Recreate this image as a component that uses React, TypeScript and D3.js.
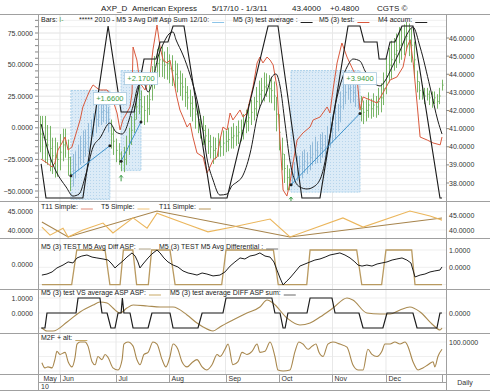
import React, { useEffect, useRef } from 'react';
import * as d3 from 'd3';

type Pt = [number, number];

const W = 490;
const H = 391;

// header
const titleParts = ['AXP_D', 'American Express', '5/17/10 - 1/3/11', '43.4000', '+0.4800', 'CGTS ©'];
const titleX = [101, 132, 212, 292, 330, 377];

// trading days: 0 = 5/17/10 ... 160 = 1/3/11
const lastDay = 160;
const monthLabels = ['May', 'Jun', 'Jul', 'Aug', 'Sep', 'Oct', 'Nov', 'Dec'];
const monthDays = [2.4, 10, 32, 53, 75, 96, 117, 138];
const yearLabel = '10';

// daily bars (price, right axis)
const barClose = [
  40.9, 40.8, 40.7, 40.5, 40.4, 40.1, 39.9, 39.5, 39.4, 39.3,
  39.7, 40.1, 40.2, 39.4, 38.5, 38.7, 39.0, 39.4, 39.8, 40.0,
  40.2, 40.5, 40.8, 41.2, 41.5, 41.7, 41.9, 42.0, 41.9, 41.5,
  40.7, 40.3, 39.8, 39.6, 39.2, 39.3, 39.8, 40.3, 40.9, 41.5,
  42.2, 42.6, 42.2, 42.0, 42.1, 42.6, 43.5, 44.1, 44.6, 44.8,
  44.7, 44.5, 44.6, 44.3, 44.2, 44.0, 43.8, 43.5, 43.3, 43.0,
  42.7, 42.4, 42.1, 41.8, 41.5, 41.1, 40.9, 40.6, 40.3, 40.0,
  39.8, 39.9, 40.1, 40.0, 40.2, 40.3, 40.4, 40.5, 40.6, 40.6,
  40.8, 40.9, 41.1, 41.4, 41.6, 41.9, 42.1, 42.5, 42.9, 43.1,
  43.3, 43.4, 43.2, 43.1, 42.8, 41.8, 40.8, 39.6, 38.8, 38.3,
  38.2, 38.5, 38.6, 38.8, 38.9, 39.0, 39.2, 39.1, 39.4, 39.6,
  39.8, 39.7, 39.9, 40.1, 40.0, 40.4, 40.8, 41.0, 41.3, 41.6,
  42.2, 42.8, 43.0, 43.2, 43.1, 43.0, 42.8, 42.6, 42.1, 41.9,
  42.0, 42.3, 42.1, 42.3, 42.2, 42.5, 42.7, 43.2, 43.9, 44.5,
  44.8, 45.1, 45.3, 45.6, 45.7, 45.9, 46.1, 45.9, 45.6, 44.8,
  43.6, 43.1, 43.0, 42.8, 42.9, 42.7, 42.6, 42.7, 42.5, 42.8, 43.4,
];
const barRange = [
  1.8, 2.0, 2.0, 2.4, 2.6, 2.2, 2.5, 2.0, 2.2, 1.9, 2.0, 1.8, 1.6, 2.0, 1.9,
  1.8, 1.5, 1.4, 1.6, 1.8, 1.5, 1.6, 1.4, 1.3, 1.5, 1.2, 1.4, 1.3, 1.3, 1.4,
  1.6, 1.5, 1.3, 1.2, 1.1, 1.4, 1.6, 1.5, 1.6, 1.5, 1.4, 1.6,
  1.8, 1.6, 1.5, 1.7, 1.9, 1.8, 1.6, 1.9, 1.7, 1.5, 1.8, 1.6, 1.7, 1.5, 1.6, 1.4, 1.5,
  1.6, 1.3, 1.5, 1.4, 1.6, 1.5, 1.3, 1.6, 1.2, 1.4, 1.3, 1.5, 1.2, 1.3, 1.1, 1.4, 1.2,
  1.3, 1.2, 1.4, 1.1, 1.3, 1.2, 1.4, 1.3, 1.5, 1.4, 1.3, 1.6, 1.5, 1.4, 1.6, 1.3, 1.5,
  1.4, 1.6, 1.9, 2.0, 1.8, 1.6, 1.4,
  1.2, 1.3, 1.1, 1.4, 1.2, 1.5, 1.3, 1.2, 1.4, 1.3, 1.5, 1.2, 1.6, 1.4, 1.3, 1.5, 1.7,
  1.6, 1.8, 1.5, 1.7, 1.5, 1.3, 1.2, 1.4, 1.1, 1.2, 1.0,
  1.4, 1.3, 1.2, 1.4, 1.1, 1.3, 1.2, 1.5, 1.6, 1.8, 2.0, 1.9, 2.1, 1.8, 1.9, 2.0, 1.8,
  1.7, 1.6, 1.8, 1.9, 2.0, 1.2, 1.0, 0.8, 0.9, 0.7, 0.8, 0.9, 0.7, 0.8, 0.9, 0.6,
];

// trades
const tradeStart = [14.3, 34.0, 100.7];
const tradeEnd = [29.6, 41.8, 127.8];
const tradeEntry = [38.4, 39.2, 37.9];
const tradeGain = [1.66, 2.17, 3.94];
const tradeHigh = [43.1, 44.2, 44.2];
const tradeLow = [37.1, 38.7, 37.5];
const blueBarTrades = [0, 2];

// oscillators (left axis)
const testSeries: Pt[] = [
  [2.6, -24.8], [4.9, -27.8], [6.9, -31.0], [8.0, -27.8], [9.2, -17.6], [10.8, -12.0], [12.0, -7.3],
  [13.2, -17.6], [14.7, -15.2], [15.9, -7.3], [17.9, 6.2], [19.0, 16.5], [20.6, 24.4], [21.8, 29.9],
  [23.0, 33.9], [24.5, 31.5], [25.7, 29.9], [28.5, 29.9], [30.4, 24.4], [32.4, 11.7], [33.6, -1.7],
  [34.7, 6.2], [37.5, 16.5], [38.3, 27.5], [38.7, 63.9], [40.2, 53.6], [41.4, 35.4], [43.4, 29.9],
  [45.3, 40.2], [46.5, 61.6], [48.1, 81.3], [49.3, 63.9], [50.5, 53.6], [52.0, 51.3], [53.2, 53.6],
  [54.4, 40.2], [55.9, 24.4], [57.1, 14.1], [58.3, 8.5], [59.9, 0.6], [61.1, 3.8], [62.2, -7.3],
  [63.8, -19.9], [66.2, -23.1], [67.7, -35.8], [68.9, -31.0], [70.1, -25.5], [71.7, -23.1],
  [72.8, -9.7], [74.0, 0.6], [75.6, -1.7], [76.8, 11.7], [77.9, 6.2], [80.7, 14.1], [81.9, 8.5],
  [83.4, 11.7], [85.8, 32.3], [87.4, 51.3], [88.5, 56.0], [89.7, 51.3], [91.3, 56.0], [92.5, 53.6],
  [93.7, 49.7], [95.2, 32.3], [96.4, -9.7], [97.6, -49.2], [99.1, -54.0], [100.3, -43.7],
  [101.5, -27.9], [103.1, -9.7], [105.4, -4.1], [108.2, 0.6], [109.4, 6.2], [112.1, 8.5],
  [114.9, 16.5], [116.0, 11.7], [117.2, 29.9], [118.8, 51.3], [120.7, 67.1], [122.7, 56.0],
  [125.1, 45.7], [126.6, 40.2], [127.8, 14.1], [129.0, 24.4], [131.8, 22.0], [134.5, 19.6],
  [136.8, 27.5], [139.6, 37.8], [142.3, 40.2], [144.7, 48.1], [146.3, 63.9], [147.5, 69.5],
  [148.7, 51.3], [150.2, 19.6], [151.4, -7.3], [154.2, -9.7], [156.5, -12.0], [159.3, -13.5],
  [160.0, -7.3],
];
const testAverage: Pt[] = [
  [2.6, -28.6], [4.5, -55.5], [19.0, -55.5], [28.9, 80.5], [34.0, 12.5], [39.1, 12.5], [43.0, 54.4],
  [47.7, 54.4], [49.3, 67.9], [52.4, 67.9], [54.4, 80.5], [58.7, 80.5], [69.3, -55.5], [75.6, -55.5],
  [91.7, 80.5], [95.6, 80.5], [105.0, -55.5], [112.1, -55.5], [123.1, 80.5], [127.8, 80.5],
  [129.4, 67.9], [134.5, 67.9], [135.3, 54.4], [138.0, 54.4], [139.6, 67.9], [141.5, 67.9],
  [144.3, 80.5], [148.6, 80.5], [159.2, -55.5], [160.0, -55.5],
];
const accum: Pt[] = [
  [2.6, 3.0], [5.7, -20.7], [8.4, -34.2], [12.4, -46.8], [15.1, -54.0], [17.5, -52.4], [20.2, -36.6],
  [23.0, -15.2], [25.7, -8.1], [29.6, 3.8], [32.0, -3.3], [34.4, -4.9], [38.7, 17.2], [41.0, 33.9],
  [43.0, 34.7], [44.6, 28.3], [46.5, 37.8], [48.5, 56.0], [50.5, 66.3], [52.8, 74.2], [54.4, 75.8],
  [55.6, 69.5], [58.3, 57.6], [61.1, 41.8], [63.8, 22.0], [66.2, -3.3], [67.7, -23.9], [70.1, -41.3],
  [72.8, -53.2], [75.6, -52.4], [77.5, -46.0], [79.5, -42.9], [81.5, -38.9], [84.6, -20.7],
  [87.7, 10.9], [91.3, 29.1], [93.2, 40.2], [94.8, 42.6], [96.4, 33.1], [98.4, 3.0], [100.3, -26.3],
  [102.3, -42.1], [104.2, -46.8], [107.0, -48.4], [110.1, -46.0], [112.9, -36.6], [115.2, -15.2],
  [118.8, 24.4], [122.7, 48.1], [125.1, 54.4], [127.8, 52.8], [129.8, 44.9], [132.5, 37.0],
  [135.7, 33.1], [137.6, 37.0], [140.4, 48.1], [143.5, 60.8], [146.3, 74.2], [148.6, 79.7],
  [151.4, 63.9], [155.3, 32.3], [158.4, 5.4], [160.0, -4.9],
];
const mainLeftTicks = [75, 50, 25, 0, -25, -50];
const mainRightTicks = [46, 45, 44, 43, 42, 41, 40, 39, 38];

// panel 2
const t5Simple: Pt[] = [
  [2.9, 40.8], [6.1, 38.6], [11.2, 40.5], [13.2, 38.1], [19.0, 40.0], [26.9, 41.9], [30.8, 39.2],
  [38.7, 43.3], [44.2, 40.5], [48.1, 44.6], [59.9, 41.6], [68.1, 39.5], [77.9, 40.8], [92.5, 43.0],
  [100.3, 38.1], [121.1, 43.3], [129.0, 40.8], [147.4, 45.2], [155.3, 43.8], [160, 42.7],
];
const t11Simple: Pt[] = [[2.9, 42.2], [13.2, 38.1], [48.1, 45.2], [100.3, 38.1], [160, 43.3]];
const p2Ticks = [45, 40];

// panel 3
const avgDiffAsp: Pt[] = [
  [2.9, -1], [14.6, -1], [16.6, 1], [27.7, 1], [29.6, -1], [33.6, -1], [34.9, 1], [38.6, 1],
  [40.1, -1], [44.7, -1], [46.0, 1], [53.2, 1], [55.2, -1], [73.5, -1], [75.2, 1], [93.8, 1],
  [95.7, -1], [106.9, -1], [108.2, 1], [126.5, 1], [128.5, -1], [136.3, -1], [138.0, 1], [148.1, 1],
  [149.4, -1], [160, -1],
];
const avgDifferential: Pt[] = [
  [2.9, -0.64], [4.9, -0.58], [6.9, -0.46], [8.8, -0.23], [11.2, -0.06], [13.2, 0.12], [15.1, 0.06],
  [16.7, 0.35], [18.6, 0.46], [20.6, 0.52], [22.6, 0.4], [24.5, 0.35], [26.9, 0.29], [28.9, 0.23],
  [30.4, 0.0], [31.6, -0.23], [32.8, -0.06], [34.7, 0.17], [36.3, 0.4], [38.3, 0.64], [39.5, 0.46],
  [40.6, 0.12], [41.4, -0.23], [42.6, 0.0], [44.6, 0.35], [46.1, 0.58], [48.1, 0.81], [49.3, 0.64],
  [50.8, 0.35], [52.4, 0.12], [54.4, -0.06], [56.3, -0.17], [58.3, -0.4], [60.3, -0.52],
  [62.2, -0.58], [63.8, -0.64], [65.8, -0.52], [67.7, -0.58], [70.1, -0.69], [72.8, -0.64],
  [74.8, -0.46], [76.8, -0.12], [78.7, 0.12], [80.7, 0.35], [82.6, 0.29], [84.6, 0.46], [86.6, 0.52],
  [88.5, 0.64], [90.5, 0.46], [92.5, 0.4], [94.0, 0.12], [95.2, -0.35], [96.4, -0.81], [97.6, -1.21],
  [99.1, -0.98], [100.3, -0.81], [102.3, -0.46], [104.2, -0.12], [106.2, 0.0], [108.2, 0.12],
  [110.1, 0.23], [112.1, 0.29], [114.1, 0.4], [116.0, 0.52], [118.0, 0.58], [119.9, 0.64],
  [121.9, 0.52], [123.9, 0.35], [125.8, 0.12], [127.0, -0.06], [128.6, -0.12], [130.5, -0.06],
  [132.5, -0.12], [134.5, 0.0], [136.4, 0.06], [138.4, 0.12], [140.4, 0.23], [142.3, 0.29],
  [144.3, 0.35], [146.2, 0.23], [147.8, 0.06], [149.4, -0.75], [151.4, -0.64], [153.3, -0.58],
  [155.3, -0.46], [157.2, -0.4], [159.2, -0.35], [160.0, -0.17],
];

// panel 4
const vsAverage: Pt[] = [
  [2.9, -1.0], [4.9, -1.2], [7.3, -1.2], [12.8, -0.6], [17.9, 0.07], [23.0, 0.53], [25.7, 0.73],
  [28.5, 0.67], [30.8, 0.33], [33.6, 0.0], [36.3, 0.33], [38.7, 0.53], [44.2, 0.47], [49.3, 0.4],
  [54.4, 0.4], [59.9, -0.13], [63.8, -0.67], [66.2, -0.93], [70.1, -1.2], [72.8, -0.93], [77.9, -0.47],
  [83.4, 0.0], [88.5, 0.4], [91.3, 0.87], [93.6, 0.67], [99.1, -0.33], [104.2, -0.8], [108.2, -0.67],
  [112.1, -0.27], [117.2, 0.33], [122.7, 1.0], [125.0, 0.87], [130.5, 0.0], [135.6, -0.07],
  [139.6, -0.07], [143.5, 0.2], [147.4, 0.4], [151.4, 0.07], [156.5, -0.8], [159.2, -1.13], [160.0, -1.0],
];
const diffSum: Pt[] = [
  [2.6, -1], [4.1, -1], [4.9, 0], [16.3, 0], [17.1, 1], [25.7, 1], [26.5, 0], [28.5, 0], [30.0, -1],
  [31.6, -1], [32.8, 0], [34.0, 0], [34.5, 1], [35.1, 0], [37.5, 0], [38.7, -1], [44.6, -1], [46.1, 0],
  [53.2, 0], [54.4, -1], [64.2, -1], [65.8, 0], [74.0, 0], [75.2, 1], [93.2, 1], [94.4, 0], [96.4, 0],
  [97.6, -1], [98.4, -1], [99.5, 0], [107.0, 0], [108.2, 1], [116.8, 1], [118.0, 0], [127.4, 0],
  [129.0, -1], [136.8, -1], [138.4, 0], [148.6, 0], [150.2, -1], [158.0, -1], [159.2, 0], [160, 0],
];

// panel 5
const m2fAlt: Pt[] = [
  [2.9, 28.6], [4.1, 10.7], [5.3, 14.3], [6.9, 10.7], [8.0, 39.3], [8.8, 67.9], [10.0, 57.1],
  [12.0, 64.3], [13.2, 32.1], [14.7, 14.3], [15.9, 46.4], [16.7, 92.9], [17.9, 100], [19.8, 100],
  [21.0, 85.7], [22.6, 32.1], [23.8, 21.4], [24.9, 50], [26.5, 39.3], [27.7, 57.1], [28.9, 46.4],
  [30.8, 10.7], [32.8, 3.6], [34.4, 39.3], [35.1, 92.9], [36.7, 100], [38.7, 85.7], [40.2, 39.3],
  [41.4, 21.4], [43.0, 57.1], [44.6, 64.3], [46.5, 100], [48.1, 92.9], [50.1, 39.3], [51.6, 14.3],
  [53.2, 50], [54.4, 92.9], [56.3, 75], [57.9, 32.1], [59.9, 14.3], [61.8, 28.6], [63.8, 39.3],
  [65.8, 14.3], [67.7, 3.6], [69.7, 21.4], [71.7, 57.1], [72.8, 50], [74.8, 75], [76.0, 92.9],
  [77.9, 21.4], [79.9, 32.1], [81.5, 64.3], [83.4, 57.1], [85.4, 67.9], [87.4, 92.9], [88.5, 64.3],
  [90.5, 67.9], [92.5, 100], [94.4, 50], [95.6, 3.6], [97.6, 0], [100.3, 3.6], [102.3, 67.9],
  [103.8, 100], [105.4, 92.9], [107.4, 75], [109.0, 85.7], [110.5, 92.9], [111.7, 64.3], [113.3, 50],
  [115.2, 92.9], [117.2, 100], [119.9, 92.9], [122.7, 82.1], [125.0, 21.4], [127.0, 3.6], [129.0, 3.6],
  [130.9, 75], [132.5, 57.1], [134.5, 50], [136.4, 67.9], [137.6, 92.9], [139.6, 92.9], [141.5, 100],
  [143.5, 92.9], [145.5, 100], [146.6, 85.7], [148.6, 32.1], [150.6, 3.6], [152.5, 10.7],
  [154.5, 21.4], [156.5, 32.1], [157.2, 14.3], [158.4, 50], [160.0, 75],
];

const plotLeft = 38;
const plotRight = 446;
const panelRows: Pt[] = [[14, 201], [201, 238], [238, 289], [289, 333], [333, 374]];

const App: React.FC = () => {
  const svgRef = useRef<SVGSVGElement>(null);

  useEffect(() => {
    if (!svgRef.current) return;
    const svg = d3.select(svgRef.current);
    svg.selectAll('*').remove();
    const font = '"Liberation Sans", Arial, Helvetica, sans-serif';
    const fmt = d3.format('.4f');

    const x = d3.scaleLinear().domain([0, lastDay]).range([34.5, 442]);
    const yL = d3.scaleLinear().domain([-50, 75]).range([191, 33]);
    const yR = d3.scaleLinear().domain([38, 46]).range([183, 38]);
    const y2 = d3.scaleLinear().domain([40, 45]).range([230, 211.7]);
    const y2R = d3.scaleLinear().domain([40, 45]).range([230.7, 215]);
    const y3L = d3.scaleLinear().domain([0, 1]).range([264, 246.7]);
    const y3R = d3.scaleLinear().domain([0, 1]).range([267.3, 250]);
    const y4 = d3.scaleLinear().domain([0, 1]).range([313, 298]);
    const y5 = d3.scaleLinear().domain([0, 100]).range([371, 342]);

    const defs = svg.append('defs');
    panelRows.forEach(([t, b], k) => {
      defs
        .append('clipPath')
        .attr('id', `clip${k}`)
        .append('rect')
        .attr('x', plotLeft)
        .attr('y', t)
        .attr('width', plotRight - plotLeft)
        .attr('height', b - t);
    });
    const pat = defs
      .append('pattern')
      .attr('id', 'hatch')
      .attr('width', 3)
      .attr('height', 3)
      .attr('patternUnits', 'userSpaceOnUse');
    pat.append('rect').attr('width', 3).attr('height', 3).attr('fill', '#dcebf7');
    pat.append('rect').attr('width', 1).attr('height', 1).attr('fill', '#b7d5ec');

    svg.append('rect').attr('width', W).attr('height', H).attr('fill', '#fff');

    const addText = (tx: number, ty: number, s: string, size = 7, anchor = 'start', fill = '#222') =>
      svg
        .append('text')
        .attr('x', tx)
        .attr('y', ty)
        .attr('font-family', font)
        .attr('font-size', size)
        .attr('text-anchor', anchor)
        .attr('fill', fill)
        .text(s);

    // grids
    const grid = svg.append('g');
    d3.range(-55, 90, 5).forEach((v) => {
      const yy = yL(v);
      if (yy < 15 || yy > 200) return;
      grid
        .append('line')
        .attr('x1', plotLeft)
        .attr('x2', plotRight)
        .attr('y1', yy)
        .attr('y2', yy)
        .attr('stroke', v % 25 === 0 ? '#e2e2e2' : '#f0f0f0');
    });
    const lowerGrid: [d3.ScaleLinear<number, number>, number[]][] = [
      [y2, [40, 45]],
      [y3R, [0, 1, -1]],
      [y4, [0, 1, -1]],
      [y5, [0, 50, 100]],
    ];
    lowerGrid.forEach(([sc, vals]) =>
      vals.forEach((v) =>
        grid
          .append('line')
          .attr('x1', plotLeft)
          .attr('x2', plotRight)
          .attr('y1', sc(v))
          .attr('y2', sc(v))
          .attr('stroke', '#efefef')
      )
    );
    monthDays.slice(1).forEach((d) => {
      panelRows.forEach(([t, b]) =>
        grid
          .append('line')
          .attr('x1', x(d))
          .attr('x2', x(d))
          .attr('y1', t)
          .attr('y2', b)
          .attr('stroke', '#e8e8e8')
      );
    });

    // main panel
    const main = svg.append('g').attr('clip-path', 'url(#clip0)');

    tradeStart.forEach((s, k) => {
      main
        .append('rect')
        .attr('x', x(s))
        .attr('y', yR(tradeHigh[k]))
        .attr('width', x(tradeEnd[k]) - x(s))
        .attr('height', yR(tradeLow[k]) - yR(tradeHigh[k]))
        .attr('fill', 'url(#hatch)')
        .attr('stroke', '#98c6e6')
        .attr('stroke-width', 0.8)
        .attr('stroke-dasharray', '2,1');
    });

    const inBlue = (i: number) =>
      blueBarTrades.some((k) => i >= tradeStart[k] && i <= tradeEnd[k]);
    barClose.forEach((c, i) => {
      const r = barRange[i] ?? 1.2;
      const col = inBlue(i) ? '#8ab5d6' : '#6aae57';
      const bx = Math.round(x(i)) + 0.5;
      main
        .append('line')
        .attr('x1', bx)
        .attr('x2', bx)
        .attr('y1', yR(c + r / 2))
        .attr('y2', yR(c - r / 2))
        .attr('stroke', col)
        .attr('stroke-width', 0.9);
      main
        .append('line')
        .attr('x1', bx)
        .attr('x2', bx + 1.2)
        .attr('y1', yR(c))
        .attr('y2', yR(c))
        .attr('stroke', col)
        .attr('stroke-width', 0.9);
    });

    const lineL = d3
      .line<Pt>()
      .x((d) => x(d[0]))
      .y((d) => yL(d[1]));
    main
      .append('path')
      .attr('d', lineL.curve(d3.curveLinear)(testSeries) || '')
      .attr('fill', 'none')
      .attr('stroke', '#d9593d')
      .attr('stroke-width', 1);
    main
      .append('path')
      .attr('d', lineL.curve(d3.curveMonotoneX)(accum) || '')
      .attr('fill', 'none')
      .attr('stroke', '#1c1c1c')
      .attr('stroke-width', 1);
    main
      .append('path')
      .attr('d', lineL.curve(d3.curveLinear)(testAverage) || '')
      .attr('fill', 'none')
      .attr('stroke', '#1c1c1c')
      .attr('stroke-width', 1.1);

    // trade lines, markers, labels
    tradeStart.forEach((s, k) => {
      const e = tradeEnd[k];
      const p0 = tradeEntry[k];
      const p1 = tradeEntry[k] + tradeGain[k];
      main
        .append('line')
        .attr('x1', x(s))
        .attr('y1', yR(p0))
        .attr('x2', x(e))
        .attr('y2', yR(p1))
        .attr('stroke', '#3f93cc')
        .attr('stroke-width', 1);
      [[s, p0], [e, p1]].forEach(([a, p]) =>
        main.append('circle').attr('cx', x(a)).attr('cy', yR(p)).attr('r', 1.5).attr('fill', '#222')
      );
      const ax = x(s);
      const ay = yR(tradeLow[k]) + 5;
      main
        .append('path')
        .attr('d', `M${ax},${ay + 6} L${ax},${ay} M${ax - 1.8},${ay + 2.2} L${ax},${ay} L${ax + 1.8},${ay + 2.2}`)
        .attr('fill', 'none')
        .attr('stroke', '#3c9c46')
        .attr('stroke-width', 1);
    });
    tradeStart.forEach((s, k) => {
      const cx = x(tradeEnd[k]);
      const cy = yR(tradeHigh[k]) + 8;
      const label = d3.format('+.4f')(tradeGain[k]);
      svg
        .append('rect')
        .attr('x', cx - 16.5)
        .attr('y', cy - 6)
        .attr('width', 33)
        .attr('height', 12)
        .attr('fill', '#fff')
        .attr('stroke', '#a9c9de')
        .attr('stroke-width', 0.8);
      addText(cx, cy + 2.6, label, 7.5, 'middle', '#3c9c46');
    });

    // panel 2
    const p2 = svg.append('g').attr('clip-path', 'url(#clip1)');
    const line2 = d3
      .line<Pt>()
      .x((d) => x(d[0]))
      .y((d) => y2(d[1]));
    p2.append('path').attr('d', line2(t11Simple) || '').attr('fill', 'none').attr('stroke', '#a7844c').attr('stroke-width', 1.1);
    p2.append('path').attr('d', line2(t5Simple) || '').attr('fill', 'none').attr('stroke', '#ebb65c').attr('stroke-width', 1.1);

    // panel 3
    const p3 = svg.append('g').attr('clip-path', 'url(#clip2)');
    p3.append('path')
      .attr('d', d3.line<Pt>().x((d) => x(d[0])).y((d) => y3R(d[1]))(avgDiffAsp) || '')
      .attr('fill', 'none')
      .attr('stroke', '#b99a60')
      .attr('stroke-width', 1.3);
    p3.append('path')
      .attr('d', d3.line<Pt>().x((d) => x(d[0])).y((d) => y3L(d[1]))(avgDifferential) || '')
      .attr('fill', 'none')
      .attr('stroke', '#1c1c1c')
      .attr('stroke-width', 1);

    // panel 4
    const p4 = svg.append('g').attr('clip-path', 'url(#clip3)');
    p4.append('path')
      .attr('d', d3.line<Pt>().x((d) => x(d[0])).y((d) => y4(d[1])).curve(d3.curveMonotoneX)(vsAverage) || '')
      .attr('fill', 'none')
      .attr('stroke', '#a98a50')
      .attr('stroke-width', 1.1);
    p4.append('path')
      .attr('d', d3.line<Pt>().x((d) => x(d[0])).y((d) => y4(d[1]))(diffSum) || '')
      .attr('fill', 'none')
      .attr('stroke', '#1c1c1c')
      .attr('stroke-width', 1.2);

    // panel 5
    const p5 = svg.append('g').attr('clip-path', 'url(#clip4)');
    p5.append('path')
      .attr('d', d3.line<Pt>().x((d) => x(d[0])).y((d) => y5(d[1])).curve(d3.curveMonotoneX)(m2fAlt) || '')
      .attr('fill', 'none')
      .attr('stroke', '#a8874d')
      .attr('stroke-width', 1.1);

    // frame
    const frame = svg.append('g').attr('stroke', '#a0a0a0').attr('stroke-width', 1);
    [14, 201, 238, 289, 333, 374, 390].forEach((yy) =>
      frame.append('line').attr('x1', 0).attr('x2', W).attr('y1', yy + 0.5).attr('y2', yy + 0.5)
    );
    [plotLeft, plotRight].forEach((xx) =>
      frame.append('line').attr('x1', xx + 0.5).attr('x2', xx + 0.5).attr('y1', 14).attr('y2', 390)
    );
    frame.append('line').attr('x1', plotLeft).attr('x2', plotRight).attr('y1', 382.5).attr('y2', 382.5);
    [...monthDays.slice(1), lastDay].forEach((d) =>
      frame
        .append('line')
        .attr('x1', Math.round(x(d)) + 0.5)
        .attr('x2', Math.round(x(d)) + 0.5)
        .attr('y1', 374)
        .attr('y2', 382)
    );

    // axis ticks
    d3.range(-55, 90, 5).forEach((v) => {
      const yy = yL(v);
      if (yy < 15 || yy > 200) return;
      svg.append('line').attr('x1', 35).attr('x2', 38).attr('y1', yy).attr('y2', yy).attr('stroke', '#888');
    });
    mainRightTicks.forEach((v) =>
      svg.append('line').attr('x1', 446).attr('x2', 449).attr('y1', yR(v)).attr('y2', yR(v)).attr('stroke', '#888')
    );

    // axis labels
    mainLeftTicks.forEach((v) => addText(33, yL(v) + 2.5, fmt(v), 7, 'end', '#333'));
    mainRightTicks.forEach((v) => addText(449, yR(v) + 2.5, fmt(v), 7, 'start', '#333'));
    p2Ticks.forEach((v) => {
      addText(33, y2(v) + 2.5, fmt(v), 7, 'end', '#333');
      addText(449, y2R(v) + 2.5, fmt(v), 7, 'start', '#333');
    });
    addText(33, y3L(0) + 2.5, fmt(0), 7, 'end', '#333');
    [1, 0].forEach((v) => addText(449, y3R(v) + 2.5, fmt(v), 7, 'start', '#333'));
    [1, 0].forEach((v) => addText(33, y4(v) + 2.5, fmt(v), 7, 'end', '#333'));
    addText(449, y4(0) + 2.5, fmt(0), 7, 'start', '#333');
    addText(449, y5(100) + 2.5, fmt(100), 7, 'start', '#333');

    // x axis
    monthLabels.forEach((m, k) => addText(Math.round(x(monthDays[k])) + 2.5, 380.5, m, 7, 'start', '#333'));
    addText(41, 389, yearLabel, 7, 'start', '#333');
    addText(465, 385, 'Daily', 7, 'middle', '#333');

    // title
    titleParts.forEach((s, k) => addText(titleX[k], 10.5, s, 8, 'start', '#222'));

    // legends
    const legend = (items: { x: number; label: string; color: string }[], base: number) => {
      items.forEach((it) => {
        const t = addText(it.x, base, it.label, 7, 'start', '#222');
        const w = (t.node() as SVGTextElement).getComputedTextLength();
        svg
          .append('line')
          .attr('x1', it.x + w + 3)
          .attr('x2', it.x + w + 15)
          .attr('y1', base + 0.5)
          .attr('y2', base + 0.5)
          .attr('stroke', it.color)
          .attr('stroke-width', 1);
      });
    };
    const bars = addText(41, 22, 'Bars: ', 7, 'start', '#222');
    bars.append('tspan').attr('fill', '#5fa84b').text('I-');
    legend(
      [
        { x: 79, label: '***** 2010 - M5 3 Avg Diff Asp Sum 12/10:', color: '#8cc4e8' },
        { x: 233, label: 'M5 (3) test average :', color: '#222' },
        { x: 319, label: 'M5 (3) test:', color: '#d9593d' },
        { x: 378, label: 'M4 accum:', color: '#222' },
      ],
      22
    );
    legend(
      [
        { x: 41, label: 'T11 Simple:', color: '#e08a78' },
        { x: 101, label: 'T5 Simple:', color: '#f0c47a' },
        { x: 159, label: 'T11 Simple:', color: '#b8965a' },
      ],
      208.5
    );
    legend(
      [
        { x: 41, label: 'M5 (3) TEST M5 Avg Diff ASP:', color: '#b0a488' },
        { x: 159, label: 'M5 (3) TEST M5 Avg Differential :', color: '#777' },
      ],
      248.5
    );
    legend(
      [
        { x: 41, label: 'M5 (3) test VS average ASP ASP:', color: '#c8a864' },
        { x: 170, label: 'M5 (3) test average DIFF ASP sum:', color: '#666' },
      ],
      294.5
    );
    legend([{ x: 41, label: 'M2F + alt:', color: '#c8a864' }], 340);
  }, []);

  return (
    <div style={{ position: 'absolute', left: 0, top: 0 }}>
      <svg ref={svgRef} width={W} height={H} />
    </div>
  );
};

export default App;
